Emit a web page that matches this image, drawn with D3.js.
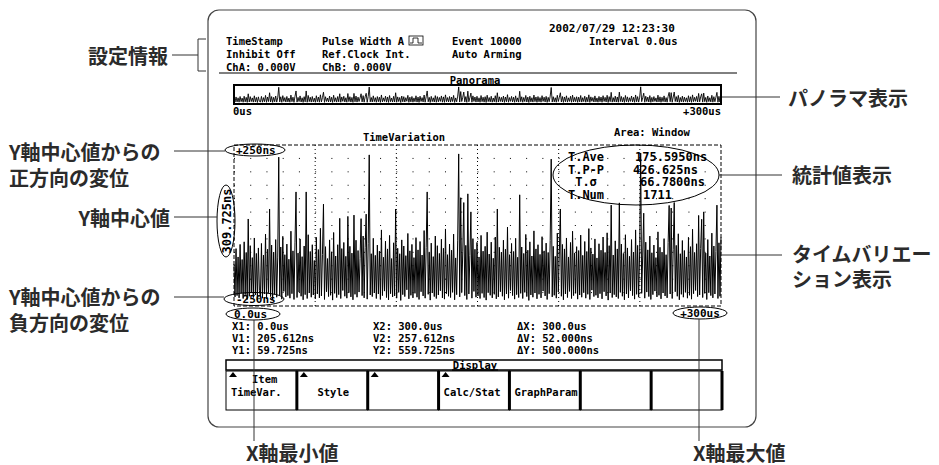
<!DOCTYPE html>
<meta charset="utf-8">
<style>
body { margin: 0; background: #fff; }
svg text { font-family: "DejaVu Sans Mono", monospace; font-size: 10.5px; font-weight: bold; fill: #000; }
svg text.jp { font-family: "Noto Sans CJK JP", sans-serif; font-size: 20px; font-weight: 700; fill: #2b2b2b; }
.frame { fill: none; stroke: #444; stroke-width: 1.2; }
.callout { stroke: #333; stroke-width: 1; fill: none; }
.ell { fill: none; stroke: #000; stroke-width: 1; }
</style>
<svg width="939" height="465"></svg>
<script src="https://cdn.jsdelivr.net/npm/d3@7"></script>
<script>

// time variation samples (ns), 0 .. 300 us
var tvValues = [
  190, 88,238, 92,212, 85,251, 99,204, 83,259, 95,226, 80,330, 90,247,102,210, 86,
  271, 94,223, 78,240,107, 91,254, 84,218, 97,283, 82,236,101,361, 89,249, 79,227,
   96,266, 87,209,522, 93,243, 81,276,105,219, 88,252, 92,205, 84,292, 98,231, 80,
  258,414, 86,224,103,268, 90,213, 79,246, 95,414, 83,281,100,229, 87,250, 94,201,
   82,273, 97,235, 85,301, 91,220,376, 80,244,104,207, 89,265, 93,228, 78,288, 99,
  215, 86,250, 95,332, 83,238,108,257, 90,214, 84,338,101,245, 88,224, 79,342, 96,
  264, 87,232,103,208,331, 92,277, 85,241,345, 81,253,529, 94,222, 89,270,100,217,
   83,249, 97,230, 80,296, 92,211,106,261, 86,237, 79,279, 98,207, 88,256, 91,361,
   84,239,102,222, 77,265, 95,246, 89,216,110,285, 82,231, 93,251, 85,210, 99,272,
   87,234, 80,260,104,218, 91,294, 84,242,414, 96,226, 78,255,100,213, 89,277, 83,
  247, 94,223,107,267, 85,239, 81,299, 98,219, 90,252, 86,233,102,283, 79,209, 95,
  262,532, 88,396,103,228,381, 92,248, 80,408, 97,216,352, 84,269,105,236, 87,257,
   91,212, 83,279, 99,230, 86,245, 78,289,101,221, 93,258, 85,208, 96,274, 82,361,
   88,242,104,227, 90,264, 79,236, 97,305, 84,219,108,254, 92,229, 81,270, 95,211,
   86,405, 99,243, 83,223,102,282, 89,233, 77,259, 94,215, 87,293,100,237, 82,250,
   96,220, 85,275,106,231, 91,255, 80,226, 98,263,516, 88,245, 93,214, 84,286,103,
  228,361, 90,251, 79,237, 97,271, 86,212,105,257, 83,292, 92,224, 99,244, 81,232,
   94,280, 87,217,101,260, 84,229, 96,300, 80,240,109,221, 89,268, 93,209, 85,253,
   98,233, 82,274,104,226, 91,287, 78,247,100,373, 86,218, 95,262, 88,237, 83,380,
  102,252, 90,223, 79,281, 97,240, 85,214,107,266, 92,227, 81,296, 96,248, 87,230,
  535, 99,218,348, 84,258,103,234, 89,277, 80,225, 95,249,106,210, 88,290, 93,242,
   82,227,100,269, 91,219, 85,257,372, 97,364, 83,236,381,104,248, 90,284, 79,222,
   96,263, 87,232,102,212, 84,273, 93,244, 81,298, 98,226,108,253, 89,341, 94,238,
  329, 86,352, 99,224, 80,266,101,215, 92,286, 85,246, 97,229,373, 83,256, 90,273
];
var timeRangeUs = [0, 300];
var yCenterNs = 309.725;
var yHalfSpanNs = 250;

var headerCol1 = ["TimeStamp", "Inhibit Off", "ChA: 0.000V"];
var headerCol2 = ["Pulse Width A", "Ref.Clock Int.", "ChB: 0.000V"];
var headerCol3 = ["Event 10000", "Auto Arming"];
var headerDate = "2002/07/29 12:23:30";
var headerInterval = "Interval 0.0us";

var statLabels = ["T.Ave", "T.P-P", "T.\u03c3", "T.Num"];
var statValues = ["175.5950ns", "426.625ns", "66.7800ns", "1711"];

var cursorCol1 = ["X1: 0.0us", "V1: 205.612ns", "Y1: 59.725ns"];
var cursorCol2 = ["X2: 300.0us", "V2: 257.612ns", "Y2: 559.725ns"];
var cursorCol3 = ["\u0394X: 300.0us", "\u0394V: 52.000ns", "\u0394Y: 500.000ns"];

var menuTop = ["Item", "", "", "", "", "", ""];
var menuLabels = ["TimeVar.", "Style", "", "Calc/Stat", "GraphParam", "", ""];
var menuArrow = [true, true, false, true, true, false, false];

var svg = d3.select("svg");

// screen frame
svg.append("rect").attr("class", "frame")
    .attr("x", 208).attr("y", 10).attr("width", 548).attr("height", 417)
    .attr("rx", 11).attr("ry", 11);

// header
function rows(list, x, y0, dy) {
  list.forEach(function(t, i) {
    svg.append("text").attr("x", x).attr("y", y0 + i * dy)
      .attr("dominant-baseline", "central").text(t);
  });
}
rows(headerCol1, 226, 41, 13);
rows(headerCol2, 322, 41, 13);
rows(headerCol3, 452, 41, 13);
svg.append("text").attr("x", 549).attr("y", 28).attr("dominant-baseline", "central")
    .style("font-size", "11px").text(headerDate);
svg.append("text").attr("x", 589).attr("y", 41).attr("dominant-baseline", "central")
    .text(headerInterval);

// small pulse icon after "Pulse Width A"
svg.append("rect").attr("x", 409).attr("y", 36).attr("width", 14).attr("height", 9)
    .attr("fill", "none").attr("stroke", "#000").attr("stroke-width", 0.8);
svg.append("path").attr("d", "M410,43 H413 V38 H418 V43 H422")
    .attr("fill", "none").attr("stroke", "#000").attr("stroke-width", 0.8);

svg.append("line").attr("x1", 219).attr("x2", 737).attr("y1", 73).attr("y2", 73)
    .attr("stroke", "#000").attr("stroke-width", 1);

// scales
var x = d3.scaleLinear().domain(timeRangeUs).range([234, 721]);
var y = d3.scaleLinear().domain([yCenterNs - yHalfSpanNs, yCenterNs + yHalfSpanNs]).range([306, 145]);
var py = d3.scaleLinear().domain(y.domain()).range([103, 86]);
var step = (timeRangeUs[1] - timeRangeUs[0]) / (tvValues.length - 1);

// panorama
svg.append("text").attr("x", 475).attr("y", 80).attr("text-anchor", "middle")
    .attr("dominant-baseline", "central").text("Panorama");
svg.append("path")
    .datum(tvValues)
    .attr("fill", "none").attr("stroke", "#000").attr("stroke-width", 0.9)
    .attr("d", d3.line().x(function(d, i) { return x(i * step); }).y(function(d) { return py(d); }));
svg.append("rect").attr("x", 234).attr("y", 85).attr("width", 487).attr("height", 19)
    .attr("fill", "none").attr("stroke", "#000").attr("stroke-width", 2);
svg.append("text").attr("x", 233).attr("y", 111).attr("dominant-baseline", "central").text("0us");
svg.append("text").attr("x", 721).attr("y", 111).attr("text-anchor", "end")
    .attr("dominant-baseline", "central").text("+300us");

// time variation
svg.append("text").attr("x", 404).attr("y", 137).attr("text-anchor", "middle")
    .attr("dominant-baseline", "central").text("TimeVariation");
svg.append("text").attr("x", 614).attr("y", 132).attr("dominant-baseline", "central").text("Area: Window");

var g = svg.append("g");
// grid
var xt = d3.range(1, 6).map(function(k) { return timeRangeUs[0] + k * 50; });
g.selectAll(".vg").data(xt).enter().append("line")
    .attr("x1", x).attr("x2", x).attr("y1", y.range()[1]).attr("y2", y.range()[0])
    .attr("stroke", "#000").attr("stroke-width", 1).attr("stroke-dasharray", "1,3");
var yt = d3.range(1, 12).map(function(k) { return y.domain()[0] + k * (2 * yHalfSpanNs) / 12; });
g.selectAll(".hg").data(yt).enter().append("line")
    .attr("x1", x.range()[0]).attr("x2", x.range()[1]).attr("y1", y).attr("y2", y)
    .attr("stroke", "#000").attr("stroke-width", 1).attr("stroke-dasharray", "1,15.23")
    .attr("stroke-dashoffset", -16.23);

g.append("path")
    .datum(tvValues)
    .attr("fill", "none").attr("stroke", "#000").attr("stroke-width", 1)
    .attr("d", d3.line().x(function(d, i) { return x(i * step); }).y(function(d) { return y(d); }));

g.append("rect").attr("x", 234).attr("y", 145).attr("width", 487).attr("height", 161)
    .attr("fill", "none").attr("stroke", "#000").attr("stroke-width", 1).attr("stroke-dasharray", "4,2");

// axis labels with ellipses
function ellLabel(cx, cy, rx, ry, tx, anchor, label, fs) {
  svg.append("ellipse").attr("class", "ell").attr("cx", cx).attr("cy", cy).attr("rx", rx).attr("ry", ry);
  svg.append("text").attr("x", tx).attr("y", cy).attr("text-anchor", anchor)
    .attr("dominant-baseline", "central").style("font-size", fs).text(label);
}
ellLabel(255, 150, 30, 6, 236, "start", "+" + yHalfSpanNs + "ns", "11px");
ellLabel(254, 299, 30, 6.5, 236, "start", "-" + yHalfSpanNs + "ns", "11px");
ellLabel(253, 314, 27, 6, 234, "start", timeRangeUs[0].toFixed(1) + "us", "11px");
ellLabel(700, 313, 27, 6, 700, "middle", "+" + timeRangeUs[1] + "us", "11px");

svg.append("ellipse").attr("class", "ell").attr("cx", 226).attr("cy", 221).attr("rx", 9).attr("ry", 36)
    .attr("fill", "#fff");
svg.append("text").attr("transform", "translate(227,221) rotate(-90)")
    .attr("text-anchor", "middle").attr("dominant-baseline", "central")
    .style("font-size", "12px").text(yCenterNs.toFixed(3) + "ns");

// statistics
svg.append("ellipse").attr("class", "ell").attr("cx", 636).attr("cy", 175).attr("rx", 83).attr("ry", 30);
var statX = [635, 633, 640, 643];
statLabels.forEach(function(t, i) {
  svg.append("text").attr("x", 586).attr("y", 157 + i * 12.7).attr("text-anchor", "middle")
    .attr("dominant-baseline", "central").style("font-size", "12px").text(t);
  svg.append("text").attr("x", statX[i]).attr("y", 157 + i * 12.7)
    .attr("dominant-baseline", "central").style("font-size", "12px").text(statValues[i]);
});

// cursor readouts
rows(cursorCol1, 232, 326, 12);
rows(cursorCol2, 373, 326, 12);
rows(cursorCol3, 517, 326, 12);

// Display menu
svg.append("rect").attr("x", 226).attr("y", 360).attr("width", 496).attr("height", 10)
    .attr("fill", "none").attr("stroke", "#000").attr("stroke-width", 1.5);
svg.append("text").attr("x", 475).attr("y", 365).attr("text-anchor", "middle")
    .attr("dominant-baseline", "central").text("Display");
svg.append("line").attr("x1", 452).attr("x2", 498).attr("y1", 370).attr("y2", 370)
    .attr("stroke", "#000").attr("stroke-width", 1.5);

var bx = d3.scaleBand().domain(d3.range(menuLabels.length)).range([226, 722]);
var btn = svg.selectAll(".btn").data(menuLabels).enter().append("g");
btn.append("rect").attr("x", function(d, i) { return bx(i); }).attr("y", 371)
    .attr("width", bx.bandwidth()).attr("height", 39)
    .attr("fill", "none").attr("stroke", "#000").attr("stroke-width", 1);
btn.append("line").attr("x1", function(d, i) { return bx(i) + bx.bandwidth(); })
    .attr("x2", function(d, i) { return bx(i) + bx.bandwidth(); })
    .attr("y1", 371).attr("y2", 410).attr("stroke", "#000").attr("stroke-width", 3);
btn.filter(function(d, i) { return menuArrow[i]; }).append("path")
    .attr("d", function(d, i) { var a = bx(i) + 3; return "M" + a + ",377 L" + (a + 4) + ",372 L" + (a + 8) + ",377 Z"; })
    .attr("fill", "#000");
btn.append("text").attr("x", function(d, i) { return i === 1 ? bx(i) + bx.bandwidth() / 2 + 1 : bx(i) + 5; })
    .attr("text-anchor", function(d, i) { return i === 1 ? "middle" : "start"; })
    .attr("y", 392).attr("dominant-baseline", "central").text(function(d) { return d; });
btn.append("text").attr("x", function(d, i) { return bx(i) + 26; })
    .attr("y", 379).attr("dominant-baseline", "central").text(function(d, i) { return menuTop[i]; });

// annotations
function jp(t, xx, yy, anchor) {
  svg.append("text").attr("class", "jp").attr("x", xx).attr("y", yy)
    .attr("text-anchor", anchor || "start").attr("dominant-baseline", "central").text(t);
}
function seg(x1, y1, x2, y2) {
  svg.append("line").attr("class", "callout").attr("x1", x1).attr("y1", y1).attr("x2", x2).attr("y2", y2);
}
jp("設定情報", 168, 55, "end");
seg(172, 55, 198, 55);
svg.append("path").attr("class", "callout").attr("d", "M206,39 H198 V71 H206");

jp("Y軸中心値からの", 9, 151);
jp("正方向の変位", 9, 177);
seg(174, 151, 225, 151);
jp("Y軸中心値", 170, 217, "end");
seg(174, 217, 217, 217);
jp("Y軸中心値からの", 9, 296);
jp("負方向の変位", 9, 322);
seg(174, 297, 224, 297);

jp("パノラマ表示", 788, 97);
seg(722, 97, 780, 97);
jp("統計値表示", 792, 174);
seg(719, 175, 782, 175);
jp("タイムバリエー", 792, 253);
jp("ション表示", 792, 278);
seg(721, 255, 782, 255);

seg(254, 320, 254, 441);
seg(699, 319, 699, 441);
jp("X軸最小値", 246, 452);
jp("X軸最大値", 693, 452);

</script>
